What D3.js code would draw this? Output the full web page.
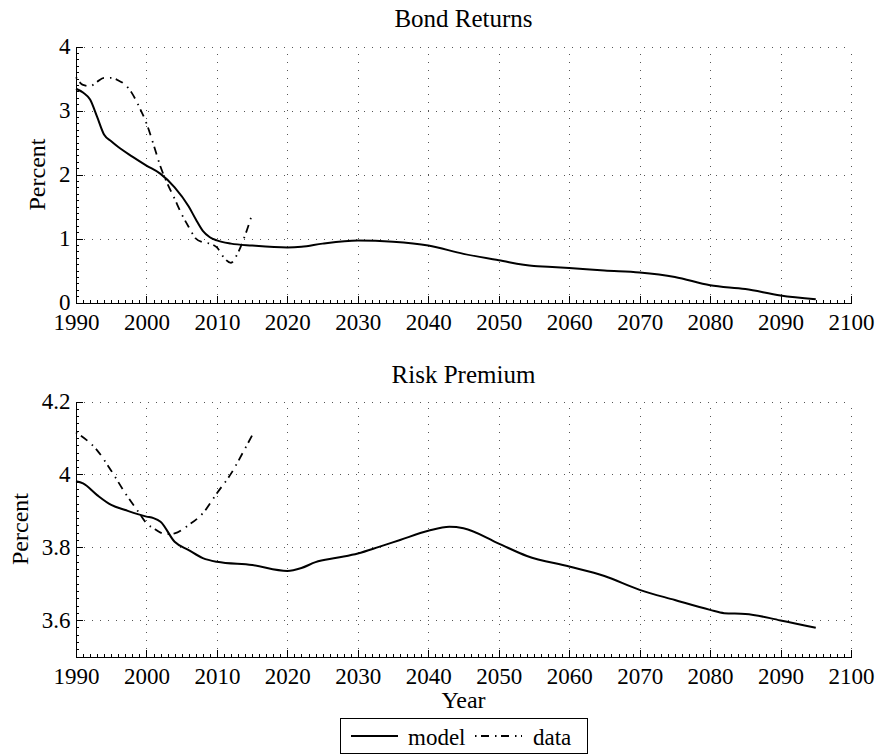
<!DOCTYPE html>
<html>
<head>
<meta charset="utf-8">
<script src="https://cdn.jsdelivr.net/npm/d3@7"></script>
<style>
  html, body { margin: 0; padding: 0; background: #fff; }
  svg { display: block; }
  svg text { font-family: "Liberation Serif", "Times New Roman", Times, serif; fill: #000; }
  .grid line { stroke: #555; stroke-width: 1; stroke-dasharray: 1,7; shape-rendering: crispEdges; }
  .grid path { display: none; }
  .axis path, .axis line { stroke: #000; stroke-width: 1; shape-rendering: crispEdges; }
  .minor path { display: none; }
  .minor line { stroke: #000; stroke-width: 1; shape-rendering: crispEdges; }
  .title { font-size: 25px; text-anchor: middle; }
  .label { font-size: 24px; text-anchor: middle; }
  .model { fill: none; stroke: #000; stroke-width: 2; }
  .data { fill: none; stroke: #000; stroke-width: 1.8; stroke-dasharray: 1.5,4.5,8,6; }
</style>
</head>
<body>
<svg id="chart" width="878" height="754"></svg>
<script>
const serif = '"Liberation Serif", "Times New Roman", Times, serif';

// Year axis shared by both panels
const yearTicks = [1990, 2000, 2010, 2020, 2030, 2040, 2050, 2060, 2070, 2080, 2090, 2100];

// Panel 1: bond returns (percent)
const bondModelYears = [1990, 1991, 1992, 1993, 1994, 1995, 1996, 1998, 2000, 2002, 2004, 2006, 2007, 2008, 2009, 2010, 2012, 2015, 2020, 2022, 2025, 2030, 2035, 2040, 2045, 2050, 2055, 2057, 2060, 2065, 2070, 2075, 2080, 2085, 2090, 2095];
const bondModel = [3.34, 3.28, 3.17, 2.90, 2.62, 2.52, 2.43, 2.28, 2.14, 2.01, 1.80, 1.50, 1.30, 1.12, 1.02, 0.97, 0.92, 0.89, 0.86, 0.87, 0.92, 0.97, 0.95, 0.89, 0.76, 0.66, 0.57, 0.56, 0.54, 0.50, 0.47, 0.40, 0.27, 0.21, 0.11, 0.05];
const bondDataYears = [1990, 1991, 1992, 1993, 1994, 1995, 1996, 1997, 1998, 1999, 2000, 2001, 2002, 2003, 2004, 2005, 2006, 2007, 2008, 2009, 2010, 2011, 2012, 2013, 2014, 2015];
const bondData = [3.52, 3.40, 3.38, 3.45, 3.51, 3.51, 3.47, 3.40, 3.26, 3.05, 2.80, 2.47, 2.12, 1.85, 1.62, 1.38, 1.18, 1.00, 0.94, 0.92, 0.86, 0.70, 0.62, 0.78, 1.05, 1.38];
const bondTicks = [0, 1, 2, 3, 4];

// Panel 2: risk premium (percent)
const premModelYears = [1990, 1991, 1993, 1995, 1997, 2000, 2001, 2002, 2004, 2006, 2008, 2010, 2015, 2020, 2022, 2024, 2027, 2030, 2033, 2036, 2040, 2043, 2045, 2050, 2054, 2060, 2065, 2070, 2075, 2080, 2082, 2085, 2090, 2095];
const premModel = [3.981, 3.975, 3.943, 3.916, 3.902, 3.884, 3.880, 3.870, 3.815, 3.792, 3.770, 3.760, 3.751, 3.735, 3.743, 3.759, 3.771, 3.783, 3.801, 3.820, 3.845, 3.856, 3.852, 3.810, 3.776, 3.747, 3.721, 3.683, 3.655, 3.628, 3.619, 3.617, 3.599, 3.579];
const premDataYears = [1990, 1993, 1995, 1997, 1999, 2000, 2001, 2002, 2003, 2004, 2006, 2008, 2010, 2012, 2014, 2015];
const premData = [4.115, 4.066, 4.010, 3.948, 3.893, 3.866, 3.852, 3.840, 3.836, 3.838, 3.861, 3.893, 3.948, 4.002, 4.071, 4.107];
const premTicks = [3.6, 3.8, 4.0, 4.2];

const seriesNames = ["model", "data"];

const svg = d3.select("#chart");
const left = 76, right = 851;

function styleAxisText(sel) {
  sel.attr("font-family", null).attr("font-size", null);
  sel.selectAll("text").style("font-family", serif).style("font-size", "23px").attr("fill", "#000");
}

function panel(cfg) {
  const x = d3.scaleLinear().domain([1990, 2100]).range([left, right]);
  const y = d3.scaleLinear().domain(cfg.yDomain).range([cfg.bottom, cfg.top]);
  const g = svg.append("g");

  // dotted grid
  g.append("g").attr("class", "grid")
    .attr("transform", `translate(0,${cfg.bottom})`)
    .call(d3.axisBottom(x).tickValues(yearTicks.slice(1)).tickSize(-(cfg.bottom - cfg.top)).tickFormat(""));
  g.append("g").attr("class", "grid")
    .attr("transform", `translate(${left},0)`)
    .call(d3.axisLeft(y).tickValues(cfg.yTicks.filter(v => v > cfg.yDomain[0])).tickSize(-(right - left)).tickFormat(""));

  // minor ticks
  g.append("g").attr("class", "minor")
    .attr("transform", `translate(0,${cfg.bottom})`)
    .call(d3.axisBottom(x).tickValues(d3.range(1991, 2100, 1)).tickSize(-3).tickFormat(""));
  g.append("g").attr("class", "minor")
    .attr("transform", `translate(${left},0)`)
    .call(d3.axisLeft(y).tickValues(d3.range(0, 71).map(i => cfg.yDomain[0] + i * cfg.minorStep).filter(v => v < cfg.yDomain[1] + 1e-9)).tickSize(-3).tickFormat(""));

  // axes
  g.append("g").attr("class", "axis")
    .attr("transform", `translate(0,${cfg.bottom})`)
    .call(d3.axisBottom(x).tickValues(yearTicks).tickSize(-7).tickSizeOuter(0).tickPadding(11.5).tickFormat(d3.format("d")))
    .call(styleAxisText);
  g.append("g").attr("class", "axis")
    .attr("transform", `translate(${left},0)`)
    .call(d3.axisLeft(y).tickValues(cfg.yTicks).tickSize(-7).tickSizeOuter(0).tickPadding(5.5).tickFormat(cfg.fmt))
    .call(styleAxisText);

  const line = (xs, ys) => d3.line().x((d, i) => x(xs[i])).y(d => y(d)).curve(d3.curveMonotoneX)(ys);
  g.append("path").attr("class", "model").attr("d", line(cfg.modelYears, cfg.model));
  g.append("path").attr("class", "data").attr("d", line(cfg.dataYears, cfg.data));

  g.append("text").attr("class", "title").attr("x", (left + right) / 2).attr("y", cfg.titleY).text(cfg.title);
  g.append("text").attr("class", "label")
    .attr("transform", `translate(${cfg.labelX},${(cfg.top + cfg.bottom) / 2}) rotate(-90)`)
    .attr("dy", "0.35em").text("Percent");
}

panel({
  title: "Bond Returns", titleY: 27, top: 46.5, bottom: 302.5, yDomain: [0, 4], yTicks: bondTicks,
  minorStep: 0.1, fmt: d3.format("d"), labelX: 37,
  modelYears: bondModelYears, model: bondModel, dataYears: bondDataYears, data: bondData
});
panel({
  title: "Risk Premium", titleY: 383, top: 401.5, bottom: 656.5, yDomain: [3.5, 4.2], yTicks: premTicks,
  minorStep: 0.02, fmt: v => (Math.abs(v - 4) < 1e-9 ? "4" : d3.format(".1f")(v)), labelX: 19.5,
  modelYears: premModelYears, model: premModel, dataYears: premDataYears, data: premData
});

svg.append("text").attr("class", "label").attr("x", (left + right) / 2).attr("y", 708).text("Year");

// legend
const leg = svg.append("g");
leg.append("rect").attr("x", 340.5).attr("y", 718.5).attr("width", 247).attr("height", 35)
  .attr("fill", "#fff").attr("stroke", "#000").attr("stroke-width", 1);
const legItems = [
  { name: seriesNames[0], cls: "model", x0: 351, x1: 398, tx: 408 },
  { name: seriesNames[1], cls: "data", x0: 475, x1: 522, tx: 533 }
];
legItems.forEach(it => {
  leg.append("line").attr("class", it.cls).attr("x1", it.x0).attr("x2", it.x1).attr("y1", 736).attr("y2", 736);
  leg.append("text").attr("x", it.tx).attr("y", 745).style("font-size", "23px").text(it.name);
});
</script>
</body>
</html>
